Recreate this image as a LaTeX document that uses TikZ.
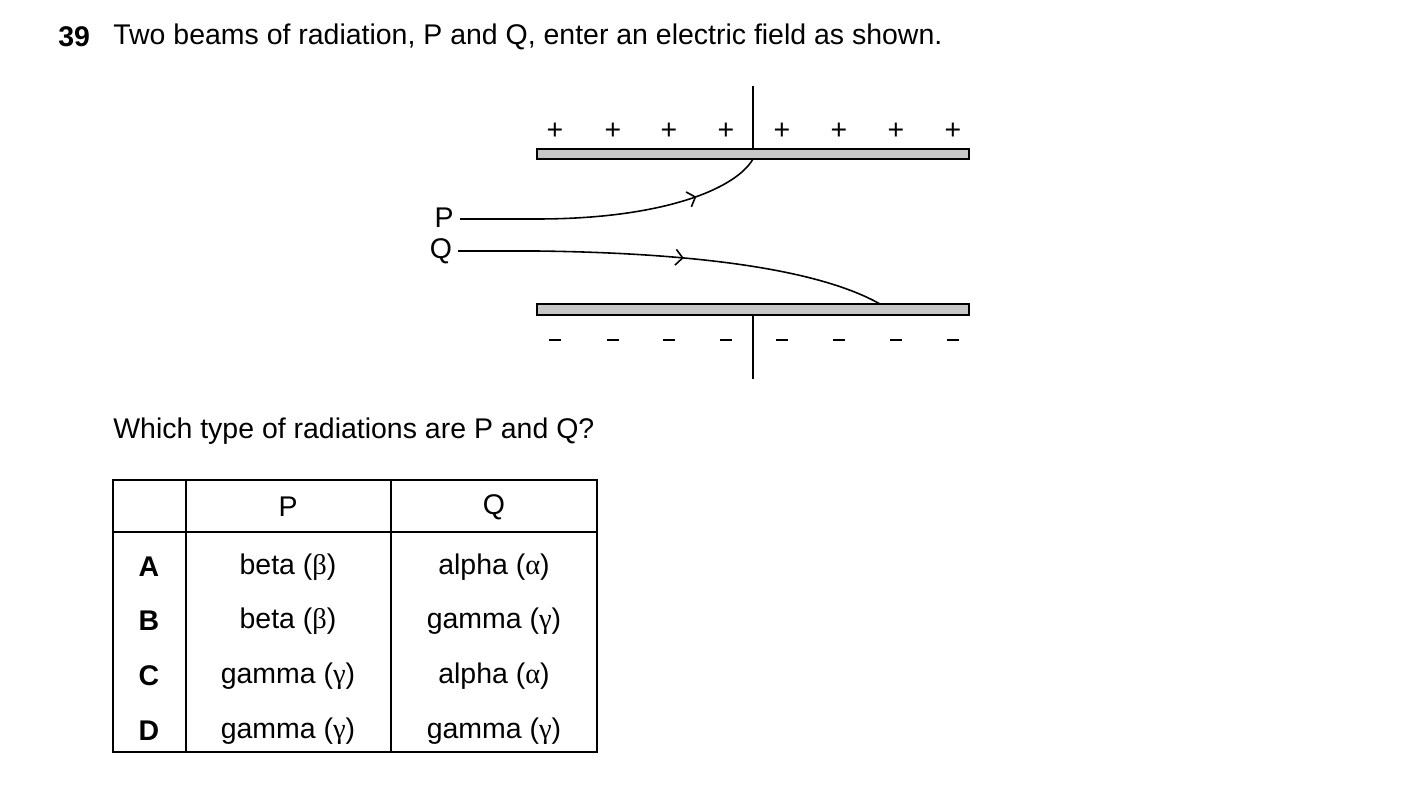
\documentclass[tikz,border=0pt]{standalone}
\usepackage{fontspec}
\setmainfont{Liberation Sans}
\newfontfamily\gr{Liberation Serif}
\usetikzlibrary{decorations.markings,arrows.meta}
\begin{document}
\begin{tikzpicture}[x=0.02cm,y=-0.02cm,
  txt/.style={font=\fontsize{16.2}{18}\selectfont,inner sep=0},
  plate/.style={draw,line width=1pt,fill=gray!45},
  beam/.style={line width=0.9pt,postaction={decorate},decoration={markings,mark=at position #1 with {\arrow{Straight Barb[length=4pt,width=9pt,line width=0.9pt]}}}},
  ln/.style={line width=0.9pt}]
\useasboundingbox (0,0) rectangle (1403,801);
\node[txt,anchor=west,font=\fontsize{16.2}{18}\selectfont\bfseries] (num) at (58,37) {39};
\node[txt,anchor=west] (title) at (113,37) {Two beams of radiation, P and Q, enter an electric field as shown.};
\draw[plate] (537,149) rectangle (969,159);
\draw[plate] (537,304) rectangle (969,315);
\coordinate (t1) at (753,86); \coordinate (t2) at (753,149);
\coordinate (b1) at (753,315); \coordinate (b2) at (753,379);
\draw[ln] (t1)--(t2); \draw[ln] (b1)--(b2);
\foreach \x in {555,613,669,726,782,839,896,953}{
  \node[txt] at (\x,131) {+};
  \draw[ln] (\x-6,340)--(\x+6,340);}
\node[txt] (P) at (444,218) {P};
\node[txt] (Q) at (441,251) {Q};
\coordinate (pe) at (753,159); \coordinate (qe) at (880,304);
\draw[ln] (P.east)++(6,1) -- (537,219);
\draw[beam=0.70] (537,219) .. controls (660,219) and (735,190) .. (pe);
\draw[ln] (Q.east)++(6,0) -- (537,251);
\draw[beam=0.42] (537,251) .. controls (700,253) and (820,270) .. (qe);
\node[txt,anchor=west] (q) at (113,431) {Which type of radiations are P and Q?};
\draw[line width=0.8pt] (113,480) rectangle (597,752) (186,480)--(186,752) (391,480)--(391,752) (113,532)--(597,532);
\node[txt] at (288,507) {P}; \node[txt] at (494,507) {Q};
\foreach \y/\l/\p/\q in {567/A/beta ({\gr β})/alpha ({\gr α}),621/B/beta ({\gr β})/gamma ({\gr γ}),676/C/gamma ({\gr γ})/alpha ({\gr α}),731/D/gamma ({\gr γ})/gamma ({\gr γ})}{
  \node[txt,font=\fontsize{16.2}{18}\selectfont\bfseries] at (149,\y) {\l};
  \node[txt] at (288,\y) {\p};
  \node[txt] at (494,\y) {\q};}
\end{tikzpicture}
\end{document}
